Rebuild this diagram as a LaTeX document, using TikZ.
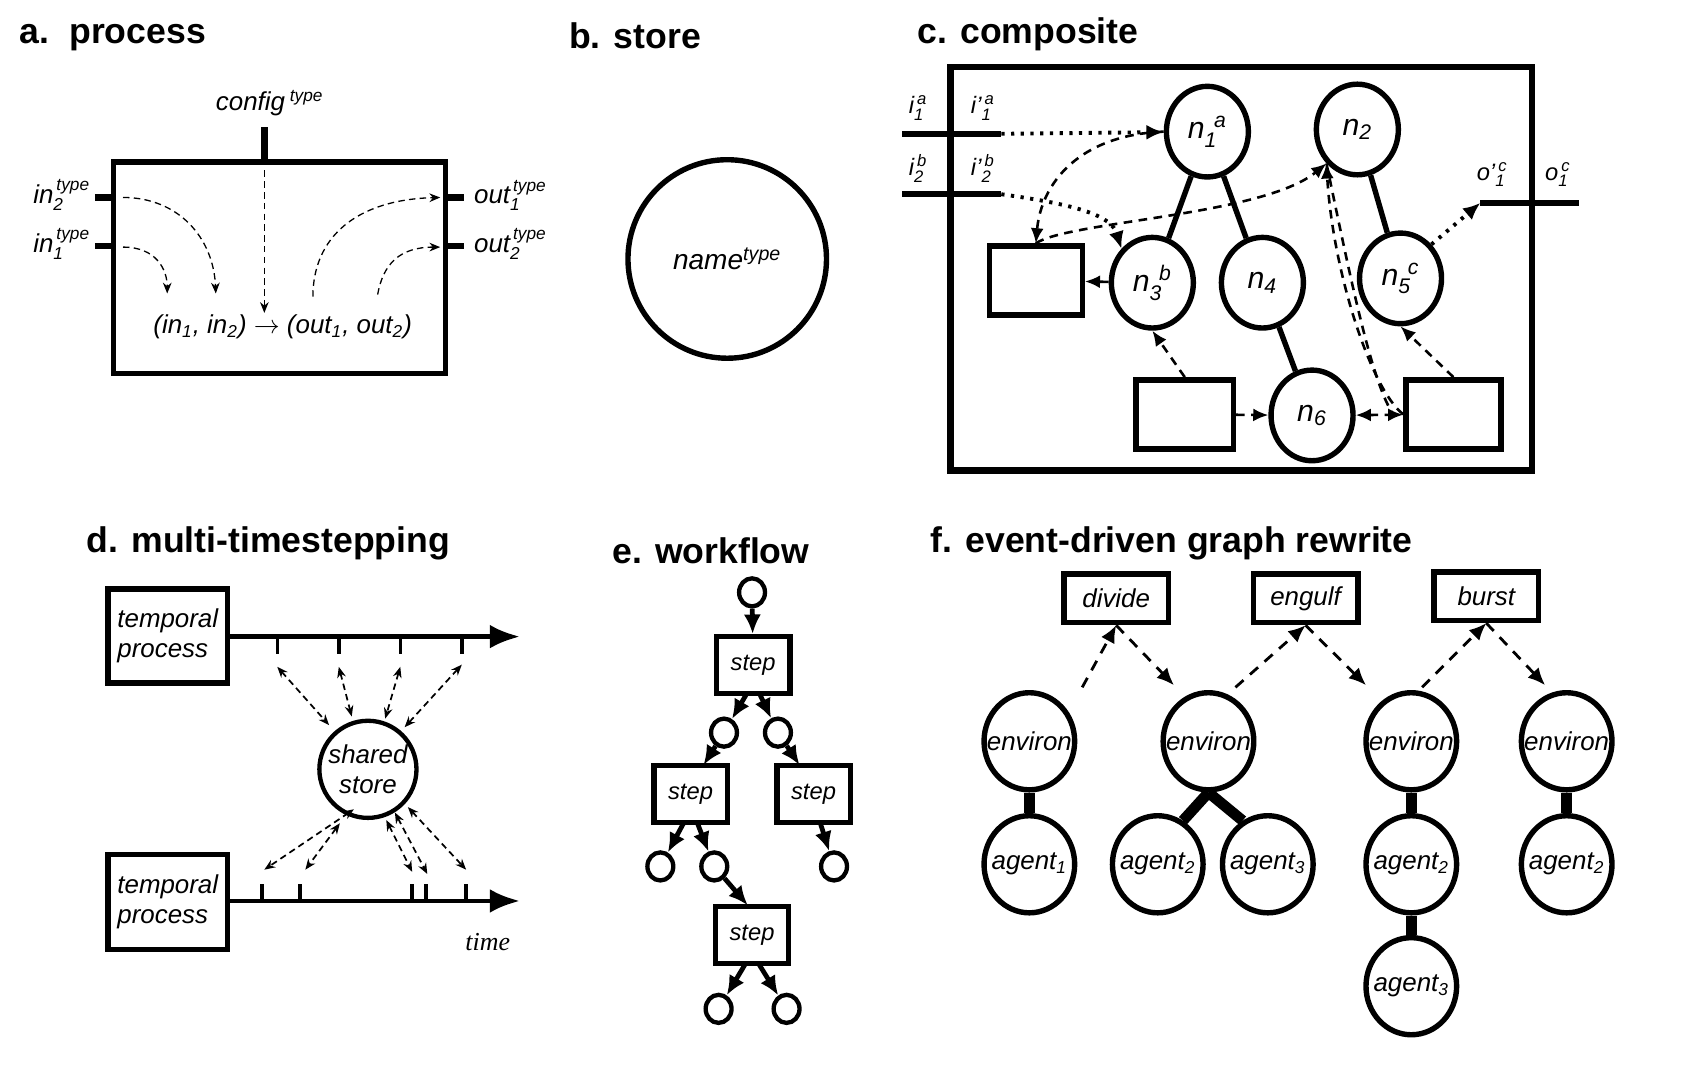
\documentclass[tikz,border=0pt]{standalone}
\usepackage{fontspec}
\usepackage{amsmath}
\setmainfont{Liberation Sans}
\newfontfamily\serifit{Liberation Serif}
\usetikzlibrary{arrows.meta,shapes.geometric}
\newcommand\lab[3]{#1$_{\text{#2}}^{\,\text{#3}}$}
\begin{document}
\begin{tikzpicture}[x=0.5pt,y=-0.5pt,
  title/.style={font=\fontsize{16.5}{19}\selectfont\bfseries, anchor=base west, inner sep=0},
  lbl/.style={font=\fontsize{12}{14}\selectfont\itshape, inner sep=1pt},
  slbl/.style={font=\fontsize{11}{13}\selectfont\itshape, inner sep=0pt},
  nlbl/.style={font=\fontsize{14}{16}\selectfont\itshape},
  box/.style={draw, line width=2.5pt, rectangle, inner sep=0},
  circ/.style={draw, line width=2.5pt, ellipse, inner sep=0},
  port/.style={line width=3pt},
  da/.style={densely dashed, dash pattern=on 3pt off 2pt, line width=0.6pt, -{Stealth[length=5pt,width=4pt]}},
  cda/.style={dash pattern=on 4pt off 3pt, line width=1.2pt, -{Latex[length=7pt,width=6pt]}},
  cdot/.style={dash pattern=on 1.5pt off 3pt, line width=1.8pt, -{Latex[length=8pt,width=7pt]}},
  dd/.style={dash pattern=on 3pt off 2pt, line width=0.8pt, {Stealth[length=5pt,width=4pt]}-{Stealth[length=5pt,width=4pt]}},
  ea/.style={line width=2.2pt, -{Latex[length=9pt,width=8pt]}},
  fa/.style={dash pattern=on 5pt off 4pt, line width=1.3pt, -{Latex[length=8pt,width=7pt]}},
  tie/.style={line width=5pt}]
\useasboundingbox (0,0) rectangle (1570,1009);

% ---------- a. process ----------
\node[title] at (18,40) {a.\ \ process};
\node[box, minimum width=154pt, minimum height=98pt] (A) at (259,248) {};
\coordinate (cfg1) at (245,118); \coordinate (cfg2) at (245,150);
\draw[port] (cfg1) -- (cfg2);
\node[lbl, anchor=south] at (250,110) {config$^{\text{ type}}$};
\coordinate (in2a) at (88,183); \coordinate (in2b) at (105,183);
\coordinate (in1a) at (88,228); \coordinate (in1b) at (105,228);
\coordinate (o1a) at (413,183); \coordinate (o1b) at (430,183);
\coordinate (o2a) at (413,228); \coordinate (o2b) at (430,228);
\draw[port] (in2a) -- (in2b); \draw[port] (in1a) -- (in1b);
\draw[port] (o1a) -- (o1b); \draw[port] (o2a) -- (o2b);
\node[lbl, anchor=east] at (86,181) {\lab{in}{2}{type}};
\node[lbl, anchor=east] at (86,226) {\lab{in}{1}{type}};
\node[lbl, anchor=west] at (437,181) {\lab{out}{1}{type}};
\node[lbl, anchor=west] at (437,226) {\lab{out}{2}{type}};
\node[lbl] (F) at (262,303) {(in$_{\text{1}}$, in$_{\text{2}}$) $\rightarrow$ (out$_{\text{1}}$, out$_{\text{2}}$)};
\draw[da] (114,183) .. controls (165,183) and (198,220) .. (200,272);
\draw[da] (114,229) .. controls (145,229) and (155,250) .. (155,272);
\draw[da] (245,158) -- (245,290);
\draw[da] (290,275) .. controls (290,220) and (330,185) .. (408,183);
\draw[da] (350,273) .. controls (355,245) and (370,229) .. (408,229);

% ---------- b. store ----------
\node[title] at (527,45) {b. store};
\node[draw, circle, line width=2.5pt, minimum size=92pt, inner sep=0] (S) at (674,240) {};
\node[font=\fontsize{13}{15}\selectfont\itshape] at (S) {name$^{\text{type}}$};

% ---------- c. composite ----------
\node[title] at (850,40) {c. composite};
\draw[line width=3pt] (881,62) rectangle (1420,436);
\coordinate (i1a) at (836,124); \coordinate (i1b) at (928,124);
\coordinate (i2a) at (836,180); \coordinate (i2b) at (928,180);
\coordinate (oa) at (1372,188); \coordinate (ob) at (1463,188);
\draw[port] (i1a) -- (i1b); \draw[port] (i2a) -- (i2b); \draw[port] (oa) -- (ob);
\node[slbl] at (851,100) {\lab{i}{1}{a}};
\node[slbl] at (911,100) {\lab{i'}{1}{a}};
\node[slbl] at (851,156) {\lab{i}{2}{b}};
\node[slbl] at (911,156) {\lab{i'}{2}{b}};
\node[slbl] at (1383,162) {\lab{o'}{1}{c}};
\node[slbl] at (1444,162) {\lab{o}{1}{c}};
\foreach \n/\x/\y/\t in {n1/1119/122/{n$_{\text{1}}^{\,\text{ a}}$}, n2/1258/120/{n$_{\text{2}}$}, n3/1068/262/{n$_{\text{3}}^{\,\text{ b}}$}, n4/1170/262/{n$_{\text{4}}$}, n5/1298/258/{n$_{\text{5}}^{\,\text{ c}}$}, n6/1216/385/{n$_{\text{6}}$}}
  \node[circ, minimum width=38pt, minimum height=42pt, nlbl] (\n) at (\x,\y) {\t};
\node[box, minimum width=43pt, minimum height=32pt] (R1) at (960,260) {};
\node[box, minimum width=45pt, minimum height=32pt] (R2) at (1098,384) {};
\node[box, minimum width=44pt, minimum height=32pt] (R3) at (1347,384) {};
\draw[line width=2.5pt] (n1) -- (n3); \draw[line width=2.5pt] (n1) -- (n4);
\draw[line width=2.5pt] (n2) -- (n5); \draw[line width=2.5pt] (n4) -- (n6);
\draw[cdot] (i1b) -- (n1);
\draw[cdot] (i2b) .. controls (1000,190) and (1030,200) .. (n3.north west);
\draw[cdot] (n5.north east) -- (oa);
\draw[cda] (n1.west) .. controls (1000,125) and (965,170) .. (R1.north);
\draw[cda] (R1.north) .. controls (990,205) and (1170,200) .. (n2.south west);
\draw[cda] (n3) -- (R1);
\draw[cda] (R2.north) -- (n3.south);
\draw[cda] (R2) -- (n6);
\draw[cda, {Latex[length=7pt,width=6pt]}-{Latex[length=7pt,width=6pt]}] (n6) -- (R3);
\draw[cda] (R3.west) .. controls (1270,360) and (1235,250) .. (n2.south west);
\draw[cda] (R3.north) -- (n5.south);
\draw[dash pattern=on 4pt off 3pt, line width=1.2pt] (n2.south west) .. controls (1250,250) and (1270,350) .. (1290,382);

% ---------- d. multi-timestepping ----------
\node[title] at (80,512) {d. multi-timestepping};
\node[box, minimum width=55.5pt, minimum height=43.5pt, lbl, align=left] (T1) at (155.5,589.5) {temporal\\process};
\node[box, minimum width=55.5pt, minimum height=44pt, lbl, align=left] (T2) at (155.5,836) {temporal\\process};
\coordinate (ax1) at (482,590); \coordinate (ax2) at (482,835);
\draw[line width=2.2pt, -{Latex[length=14pt,width=11pt]}] (T1.east |- ax1) -- (ax1);
\draw[line width=2.2pt, -{Latex[length=14pt,width=11pt]}] (T2.east |- ax2) -- (ax2);
\foreach \x in {257,314,371,428} \draw[line width=1.6pt] (\x,590) -- (\x,606);
\foreach \x in {243,278,382,395,432} \draw[line width=1.6pt] (\x,835) -- (\x,819);
\node[font=\fontsize{12}{14}\selectfont\serifit\itshape] at (452,873) {time};
\node[draw, circle, line width=2pt, minimum size=45pt, inner sep=0] (SS) at (341,713) {};
\node[lbl, align=center] at (SS) {shared\\store};
\draw[dd] (257,618) -- (305,672);
\draw[dd] (314,618) -- (326,664);
\draw[dd] (371,618) -- (357,666);
\draw[dd] (428,616) -- (375,674);
\draw[dd] (328,750) -- (245,806);
\draw[dd] (315,763) -- (283,806);
\draw[dd] (358,760) -- (382,808);
\draw[dd] (366,753) -- (396,810);
\draw[dd] (378,748) -- (432,806);

% ---------- e. workflow ----------
\node[title] at (567,522) {e. workflow};
\tikzset{sc/.style={draw, ellipse, line width=2pt, minimum width=12pt, minimum height=13pt, inner sep=0},
         st/.style={box, minimum width=34pt, minimum height=26.5pt, font=\fontsize{11}{13}\selectfont\itshape}}
\node[sc] (c0) at (697,549) {};
\node[st] (s1) at (698,616.5) {step};
\node[sc] (c1) at (671,679) {};
\node[sc] (c2) at (721,679) {};
\node[st] (s2) at (640,736) {step};
\node[st] (s3) at (754,736) {step};
\node[sc] (c3) at (612,803) {};
\node[sc] (c4) at (662,803) {};
\node[sc] (c5) at (773,803) {};
\node[st] (s4) at (697,866.5) {step};
\node[sc] (c6) at (666,935) {};
\node[sc] (c7) at (729,935) {};
\coordinate (s2t) at (652,709); \coordinate (s3t) at (741,709); \coordinate (s4t) at (693,839);
\draw[ea] (c0) -- (s1);
\draw[ea] (692,643) -- (c1); \draw[ea] (704,643) -- (c2);
\draw[ea] (c1) -- (s2t); \draw[ea] (c2) -- (s3t);
\draw[ea] (634,762) -- (c3); \draw[ea] (646,762) -- (c4);
\draw[ea] (760,762) -- (c5);
\draw[ea] (c4) -- (s4t);
\draw[ea] (691,893) -- (c6); \draw[ea] (703,893) -- (c7);

% ---------- f. event-driven graph rewrite ----------
\node[title] at (862,512) {f. event-driven graph rewrite};
\tikzset{ev/.style={box, minimum width=48.5pt, minimum height=22.5pt, font=\fontsize{12}{14}\selectfont\itshape},
         en/.style={circ, minimum width=42pt, minimum height=45pt},
         et/.style={font=\fontsize{12}{14}\selectfont\itshape, inner sep=0}}
\node[ev] (dv) at (1034.5,554.5) {divide};
\node[ev] (eg) at (1210,554.5) {engulf};
\node[ev] (bs) at (1377.5,552.5) {burst};
\foreach \n/\x/\y/\t in {E1/954/687/{environ}, E2/1120/687/{environ}, E3/1308/687/{environ}, E4/1452/687/{environ}, A1/954/801/{agent$_{\text{1}}$}, A2/1073/801/{agent$_{\text{2}}$}, A3/1175/801/{agent$_{\text{3}}$}, A4/1308/801/{agent$_{\text{2}}$}, A5/1308/914/{agent$_{\text{3}}$}, A6/1452/801/{agent$_{\text{2}}$}}
  {\node[en] (\n) at (\x,\y) {}; \node[et] at (\x,\y) {\t};}
\draw[tie] (E1) -- (A1);
\draw[tie] (E2.south) -- (A2.60);
\draw[tie] (E2.south) -- (A3.120);
\draw[tie] (E3) -- (A4); \draw[tie] (A4) -- (A5); \draw[tie] (E4) -- (A6);
\coordinate (f1) at (1003,637); \coordinate (f2) at (1088,635);
\coordinate (f3) at (1145,637); \coordinate (f4) at (1266,635);
\coordinate (f5) at (1318,637); \coordinate (f6) at (1432,635);
\draw[fa] (f1) -- (dv.south); \draw[fa] (dv.south) -- (f2);
\draw[fa] (f3) -- (eg.south); \draw[fa] (eg.south) -- (f4);
\draw[fa] (f5) -- (bs.south); \draw[fa] (bs.south) -- (f6);
\end{tikzpicture}
\end{document}
